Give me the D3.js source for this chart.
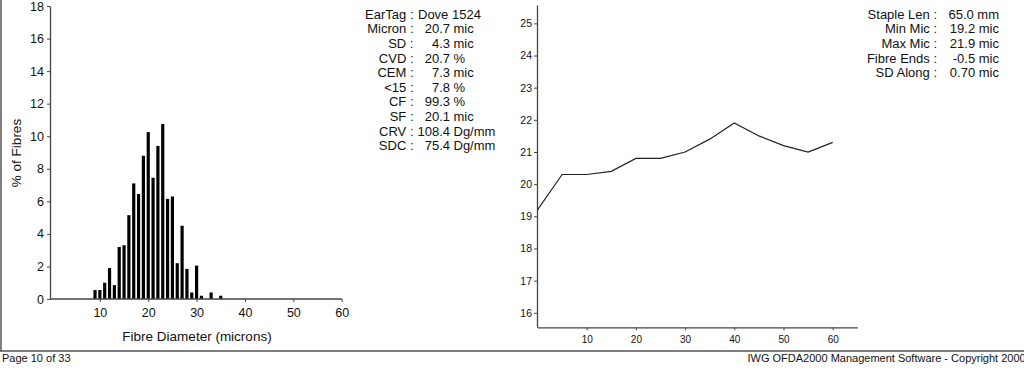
<!DOCTYPE html>
<html>
<head>
<meta charset="utf-8">
<script src="https://cdn.jsdelivr.net/npm/d3@7"></script>
<style>
  html, body { margin: 0; padding: 0; background: #fff; }
  svg { display: block; font-family: Arial, "Liberation Sans", sans-serif; }
  text { fill: #111; }
</style>
</head>
<body>
<svg id="chart" width="1024" height="374"></svg>
<script>
// ---- Histogram data (fibre diameter distribution) ----
const diameters = [9,10,11,12,13,14,15,16,17,18,19,20,21,22,23,24,25,26,27,28,29,30,31,33,35];
const percentFibres = [0.55,0.55,1.0,1.9,0.85,3.2,3.3,5.15,7.1,6.45,8.8,10.25,7.45,9.4,10.75,6.15,6.3,2.2,4.5,1.85,0.4,2.05,0.2,0.4,0.2];
const histXTicks = [10,20,30,40,50,60];
const histYTicks = [0,2,4,6,8,10,12,14,16,18];

// ---- Profile along staple ----
const positions = [0,5,10,15,20,25,30,35,40,45,50,55,60];
const micronAlong = [19.2,20.3,20.3,20.4,20.8,20.8,21.0,21.4,21.9,21.5,21.2,21.0,21.3];
const profXTicks = [10,20,30,40,50,60];
const profYTicks = [16,17,18,19,20,21,22,23,24,25];

// ---- Statistics text ----
const statLabels = ["EarTag","Micron","SD","CVD","CEM","<15","CF","SF","CRV","SDC"];
const statNumbers = ["Dove 1524","20.7","4.3","20.7","7.3","7.8","99.3","20.1","108.4","75.4"];
const statUnits = ["","mic","mic","%","mic","%","%","mic","Dg/mm","Dg/mm"];
const profLabels = ["Staple Len","Min Mic","Max Mic","Fibre Ends","SD Along"];
const profValues = ["65.0 mm","19.2 mic","21.9 mic","-0.5 mic","0.70 mic"];

const svg = d3.select("#chart");
const axisColor = "#444";

// Page frame
svg.append("line").attr("x1",1).attr("x2",1).attr("y1",0).attr("y2",351)
  .attr("stroke","#555").attr("stroke-width",1.5);
svg.append("line").attr("x1",0).attr("x2",1024).attr("y1",351).attr("y2",351)
  .attr("stroke","#555").attr("stroke-width",1.5);
svg.append("text").attr("x",2).attr("y",361.5).attr("font-size",11).text("Page 10 of 33");
svg.append("text").attr("x",747.5).attr("y",361.5).attr("font-size",11)
  .text("IWG OFDA2000 Management Software - Copyright 2000");

// ---- Histogram ----
const hx = d3.scaleLinear().domain([0,60]).range([51.5,341.7]);
const hy = d3.scaleLinear().domain([0,18]).range([299,6]);
const hg = svg.append("g");
const step = hx(1)-hx(0);
const bw = step*0.66;

hg.selectAll("rect.bar").data(diameters).join("rect")
  .attr("class","bar")
  .attr("x",(d)=>hx(d)-bw/2)
  .attr("width",bw)
  .attr("y",(d,i)=>hy(percentFibres[i]))
  .attr("height",(d,i)=>hy(0)-hy(percentFibres[i]))
  .attr("fill","#000");

const hxAxis = hg.append("g").attr("transform",`translate(0,${hy(0)})`)
  .call(d3.axisBottom(hx).tickValues(histXTicks).tickSize(3).tickSizeOuter(0).tickPadding(6));
hxAxis.select(".domain").remove();
hxAxis.append("line").attr("x1",50).attr("x2",342).attr("stroke",axisColor).attr("stroke-width",1.3);
hxAxis.selectAll(".tick line").attr("stroke",axisColor);
hxAxis.selectAll(".tick text").attr("font-size",12.5).attr("fill","#111").attr("font-family",null);

const hyAxis = hg.append("g").attr("transform",`translate(50,0)`)
  .call(d3.axisLeft(hy).tickValues(histYTicks).tickSize(3).tickSizeOuter(0).tickPadding(3));
hyAxis.select(".domain").attr("stroke",axisColor).attr("stroke-width",1.3);
hyAxis.selectAll(".tick line").attr("stroke",axisColor);
hyAxis.selectAll(".tick text").attr("font-size",12.5).attr("fill","#111").attr("font-family",null);

hg.append("text").attr("x",197).attr("y",341).attr("text-anchor","middle")
  .attr("font-size",13.5).text("Fibre Diameter (microns)");
hg.append("text").attr("transform","translate(21,153) rotate(-90)").attr("text-anchor","middle")
  .attr("font-size",13.5).text("% of Fibres");

// ---- Stats text (left) ----
const rowY = (i)=>18.7 + i*14.62;
const st = svg.append("g").attr("font-size",13);
statLabels.forEach((lab,i)=>{
  st.append("text").attr("x",413.5).attr("y",rowY(i)).attr("text-anchor","end").text(lab+" :");
  if (statUnits[i]==="") {
    st.append("text").attr("x",418).attr("y",rowY(i)).text(statNumbers[i]);
  } else {
    st.append("text").attr("x",450).attr("y",rowY(i)).attr("text-anchor","end").text(statNumbers[i]);
    st.append("text").attr("x",453.5).attr("y",rowY(i)).text(statUnits[i]);
  }
});

// ---- Profile chart ----
const px = d3.scaleLinear().domain([0,65]).range([537.5,857.3]);
const py = d3.scaleLinear().domain([15.55,25.57]).range([327.3,5]);
const pg = svg.append("g");

const pxAxis = pg.append("g").attr("transform",`translate(0,${py(15.55)})`)
  .call(d3.axisBottom(px).tickValues(profXTicks).tickSize(3).tickSizeOuter(0).tickPadding(6));
pxAxis.select(".domain").attr("stroke",axisColor).attr("stroke-width",1.3);
pxAxis.selectAll(".tick line").attr("stroke",axisColor);
pxAxis.selectAll(".tick text").attr("font-size",10).attr("fill","#111").attr("font-family",null);

const pyAxis = pg.append("g").attr("transform",`translate(537,0)`)
  .call(d3.axisLeft(py).tickValues(profYTicks).tickSize(3).tickSizeOuter(0).tickPadding(2));
pyAxis.select(".domain").attr("stroke",axisColor).attr("stroke-width",1.3);
pyAxis.selectAll(".tick line").attr("stroke",axisColor);
pyAxis.selectAll(".tick text").attr("font-size",10.5).attr("fill","#111").attr("font-family",null);

pg.append("path").datum(positions)
  .attr("d", d3.line().x(d=>px(d)).y((d,i)=>py(micronAlong[i])))
  .attr("fill","none").attr("stroke","#222").attr("stroke-width",1.2);

// ---- Stats text (right) ----
const sr = svg.append("g").attr("font-size",13);
profLabels.forEach((lab,i)=>{
  sr.append("text").attr("x",937).attr("y",rowY(i)).attr("text-anchor","end").text(lab+" :");
  sr.append("text").attr("x",999).attr("y",rowY(i)).attr("text-anchor","end").text(profValues[i]);
});
</script>
</body>
</html>
